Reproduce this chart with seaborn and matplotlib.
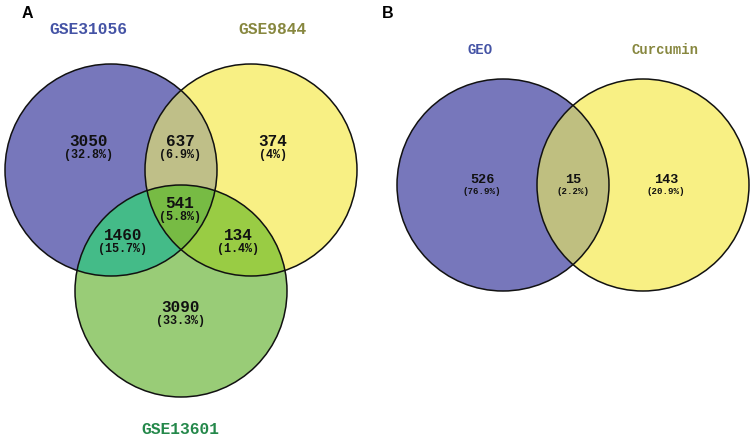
import numpy as np
import matplotlib.pyplot as plt
import seaborn as sns
from matplotlib.patches import Circle, Polygon

sns.set_style("white")

# ---- data ----
a_sets = ["GSE31056", "GSE9844", "GSE13601"]
a_regions = ["100", "010", "001", "110", "101", "011", "111"]
a_counts = [3050, 374, 3090, 637, 1460, 134, 541]
a_pcts = ["32.8%", "4%", "33.3%", "6.9%", "15.7%", "1.4%", "5.8%"]

b_sets = ["GEO", "Curcumin"]
b_regions = ["10", "01", "11"]
b_counts = [526, 143, 15]
b_pcts = ["76.9%", "20.9%", "2.2%"]

# ---- layout / style (pixel coords, y down) ----
a_circles = [(111, 170, 106), (251, 170, 106), (181, 291, 106)]
a_fill = {"100": "#7777bb", "010": "#f8f084", "001": "#99cc77",
          "110": "#bfbf88", "101": "#44bb88", "011": "#99cc44", "111": "#77bb44"}
a_text_pos = {"100": (89, 141), "010": (273, 141), "001": (181, 307),
              "110": (180, 141), "101": (123, 235), "011": (238, 235), "111": (180, 203)}
a_title_pos = [(88, 30), (273, 30), (180, 430)]
a_title_col = ["#4453a5", "#87873f", "#24884a"]

b_circles = [(503, 185, 106), (643, 185, 106)]
b_fill = {"10": "#7777bb", "01": "#f8f084", "11": "#bfbf80"}
b_text_pos = {"10": (482, 180), "01": (666, 180), "11": (573, 180)}
b_title_pos = [(480, 50), (665, 50)]
b_title_col = ["#4453a5", "#87873f"]

MONO = "Liberation Mono"


def inter_poly(circles, n=2000):
    pts = []
    t = np.linspace(0, 2 * np.pi, n, endpoint=False)
    for i, (cx, cy, r) in enumerate(circles):
        p = np.c_[cx + r * np.cos(t), cy + r * np.sin(t)]
        ok = np.ones(n, bool)
        for j, (ox, oy, orr) in enumerate(circles):
            if j != i:
                ok &= np.hypot(p[:, 0] - ox, p[:, 1] - oy) <= orr
        pts.append(p[ok])
    pts = np.vstack(pts)
    c = pts.mean(0)
    ang = np.arctan2(pts[:, 1] - c[1], pts[:, 0] - c[0])
    return pts[np.argsort(ang)]


def draw_venn(ax, circles, fills, keys, counts, pcts, tpos, fs_num, fs_pct, dy):
    # single sets first, then intersections (more sets drawn last)
    for key in sorted(fills, key=lambda k: k.count("1")):
        idx = [i for i, ch in enumerate(key) if ch == "1"]
        if len(idx) == 1:
            cx, cy, r = circles[idx[0]]
            ax.add_patch(Circle((cx, cy), r, facecolor=fills[key], edgecolor="none"))
        else:
            poly = inter_poly([circles[i] for i in idx])
            ax.add_patch(Polygon(poly, closed=True, facecolor=fills[key], edgecolor="none"))
    for cx, cy, r in circles:
        ax.add_patch(Circle((cx, cy), r, fill=False, edgecolor="#111111", lw=1.1))
    for k, c, p in zip(keys, counts, pcts):
        x, y = tpos[k]
        ax.text(x, y, str(c), ha="center", va="center", family=MONO,
                weight="bold", fontsize=fs_num, color="#111111")
        ax.text(x, y + dy, f"({p})", ha="center", va="center", family=MONO,
                weight="bold", fontsize=fs_pct, color="#111111")


fig = plt.figure(figsize=(7.53, 4.40), dpi=100)
ax = fig.add_axes([0, 0, 1, 1])
ax.set_xlim(0, 753)
ax.set_ylim(440, 0)
ax.set_axis_off()

draw_venn(ax, a_circles, a_fill, a_regions, a_counts, a_pcts, a_text_pos, 11.5, 8.5, 14)
for name, (x, y), col in zip(a_sets, a_title_pos, a_title_col):
    ax.text(x, y, name, ha="center", va="center", family=MONO, weight="bold",
            fontsize=11.7, color=col)

draw_venn(ax, b_circles, b_fill, b_regions, b_counts, b_pcts, b_text_pos, 9.7, 6.6, 12)
for name, (x, y), col in zip(b_sets, b_title_pos, b_title_col):
    ax.text(x, y, name, ha="center", va="center", family=MONO, weight="bold",
            fontsize=10, color=col)

ax.text(27, 14, "A", ha="center", va="center", family="Liberation Sans",
        weight="bold", fontsize=11.5, color="black")
ax.text(388, 14, "B", ha="center", va="center", family="Liberation Sans",
        weight="bold", fontsize=11.5, color="black")

fig.savefig("out.png", dpi=100)
plt.close(fig)
